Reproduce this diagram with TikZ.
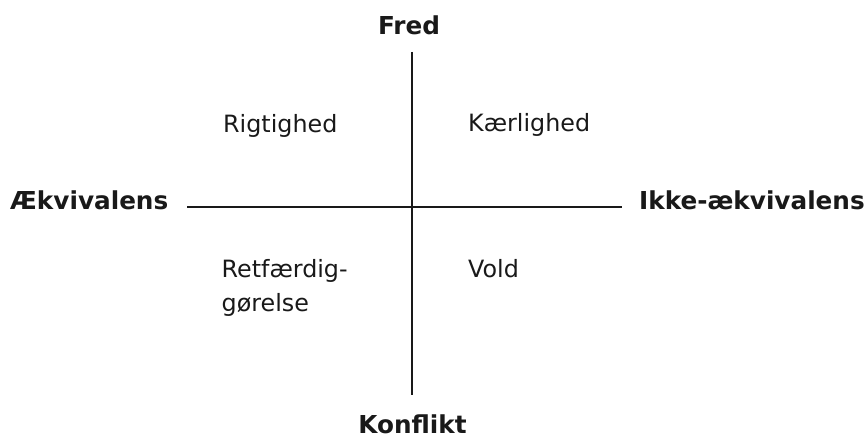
\documentclass[tikz,border=0pt]{standalone}
\usepackage{fontspec}
\setmainfont{DejaVu Sans}
\begin{document}
\begin{tikzpicture}[x=1pt,y=-1pt,
  axis/.style={line width=2pt,black!90},
  pole/.style={inner sep=0pt,font=\fontsize{24.7}{28}\selectfont\bfseries,text=black!90},
  region/.style={inner sep=0pt,font=\fontsize{23.8}{33.7}\selectfont,text=black!90,anchor=base west,align=left}]
\useasboundingbox (0,0) rectangle (868,438);
\coordinate (top) at (412,52);
\coordinate (bot) at (412,395);
\coordinate (lft) at (187,207);
\coordinate (rgt) at (622,207);
\draw[axis] (top) -- (bot);
\draw[axis] (lft) -- (rgt);
\node[pole,anchor=base] (fred) at (409,35) {Fred};
\node[pole,anchor=base] (konf) at (412.5,433.5) {Konflikt};
\node[pole,anchor=base west] (aek) at (10,210) {Ækvivalens};
\node[pole,anchor=base west] (ikke) at (639,210) {Ikke-ækvivalens};
\node[region] (rig) at (223,133) {Rigtighed};
\node[region] (kaer) at (468,131.5) {Kærlighed};
\node[region] (ret) at (221.5,311.7) {Retfærdig-\\gørelse};
\node[region] (vold) at (468,278) {Vold};
\end{tikzpicture}
\end{document}
